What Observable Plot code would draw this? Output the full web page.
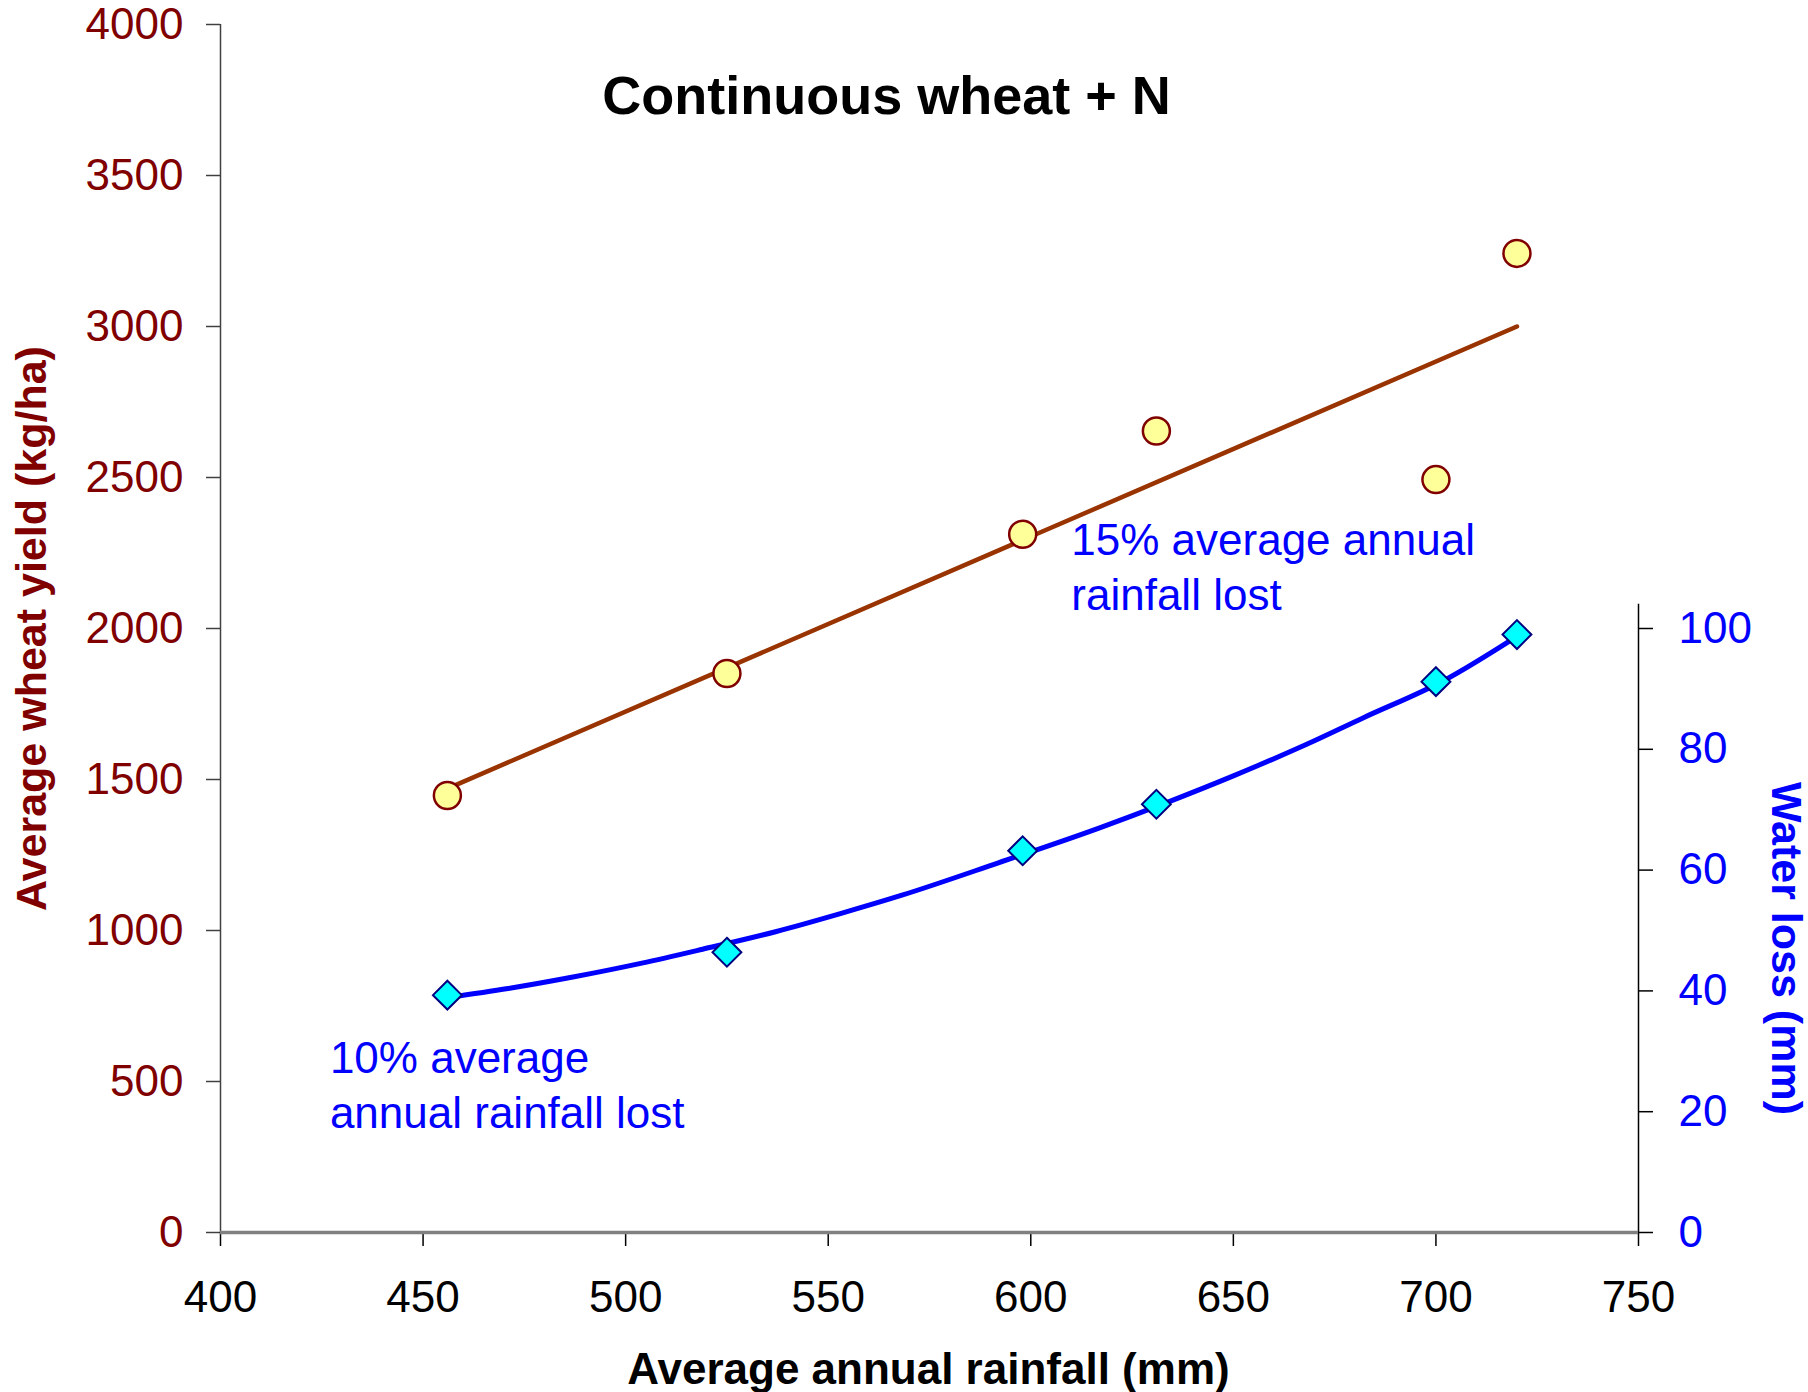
<!DOCTYPE html>
<html><head><meta charset="utf-8">
<script src="https://cdn.jsdelivr.net/npm/d3@7"></script>
<script src="https://cdn.jsdelivr.net/npm/@observablehq/plot@0.6"></script>
<style>html,body{margin:0;padding:0;background:#fff;} #chart svg{display:block;}</style>
</head><body><div id="chart"></div>
<script>
// ---- data ----
const rainfall   = [456, 525, 598, 631, 700, 720];
const wheatYield = [1447, 1851, 2312, 2654, 2493, 3242];
const waterLoss  = [39.3, 46.4, 63.2, 70.9, 91.2, 99.0];
const trendRain  = [456, 720];
const trendYield = [1470, 3000];
const curveRain  = [456, 471, 487, 504, 519, 537, 553, 568, 592, 617, 634, 650, 667, 682, 702, 720];
const curveLoss  = [38.9, 40.4, 42.3, 44.6, 46.9, 49.8, 52.8, 55.8, 61.2, 67.0, 71.3, 75.6, 80.5, 85.2, 91.4, 98.7];
const xTicks     = [400, 450, 500, 550, 600, 650, 700, 750];
const yTicks     = [0, 500, 1000, 1500, 2000, 2500, 3000, 3500, 4000];
const lossTicks  = [0, 20, 40, 60, 80, 100];
const lossAxisMax = 104;
const lossToYield = 20;   // right axis: 100 mm sits at 2000 kg/ha
const title  = "Continuous wheat + N";
const xLabel = "Average annual rainfall (mm)";
const yLabel = "Average wheat yield (kg/ha)";
const y2Label = "Water loss (mm)";
const noteText = ["15% average annual\nrainfall lost", "10% average\nannual rainfall lost"];
const noteRain = [610, 427];
const noteLoss = [103.1, 17.3];   // last-line baseline, in mm of water loss

// ---- tables ----
const yieldPts = rainfall.map((x, i) => ({x, y: wheatYield[i]}));
const lossPts  = rainfall.map((x, i) => ({x, y: waterLoss[i] * lossToYield}));
const trend    = trendRain.map((x, i) => ({x, y: trendYield[i]}));
const curve    = curveRain.map((x, i) => ({x, y: curveLoss[i] * lossToYield}));
const notes    = noteText.map((t, i) => ({t, x: noteRain[i], y: noteLoss[i] * lossToYield}));

const FONT = "'Liberation Sans', Arial, Helvetica, sans-serif";
const DARKRED = "#800000", BLUE = "#0000FF";
const plain = d => String(d);

const chart = Plot.plot({
  width: 1808, height: 1392,
  marginLeft: 220, marginRight: 170, marginTop: 24, marginBottom: 160,
  style: {fontFamily: FONT, background: "white", overflow: "visible"},
  x: {domain: [400, 750]},
  y: {domain: [0, 4000]},
  marks: [
    Plot.ruleX([400], {stroke: "#404040", strokeWidth: 1.5}),
    Plot.ruleX([750], {y1: 0, y2: lossAxisMax * lossToYield, stroke: "black", strokeWidth: 1.5}),
    Plot.axisY({anchor: "left", ticks: yTicks, tickFormat: plain, tickSize: 14, tickPadding: 23, stroke: "#404040", strokeWidth: 1.5, fill: DARKRED, fontSize: 44, label: null}),
    Plot.axisY({anchor: "right", ticks: lossTicks.map(d => d * lossToYield), tickFormat: d => String(d / lossToYield), tickSize: 14, tickPadding: 26, stroke: "black", strokeWidth: 1.5, fill: BLUE, fontSize: 44, label: null}),
    Plot.axisX({ticks: xTicks, tickFormat: plain, tickSize: 14, tickPadding: 34, stroke: "black", strokeWidth: 1.5, fill: "black", fontSize: 44, label: null}),
    Plot.ruleY([0], {stroke: "#808080", strokeWidth: 3.5}),
    Plot.line(trend, {x: "x", y: "y", stroke: "#993300", strokeWidth: 4.5}),
    Plot.line(curve, {x: "x", y: "y", stroke: BLUE, strokeWidth: 5, curve: "monotone-x"}),
    Plot.dot(yieldPts, {x: "x", y: "y", r: 13.5, fill: "#FFFF99", stroke: DARKRED, strokeWidth: 2.5}),
    Plot.dot(lossPts, {x: "x", y: "y", r: 13, symbol: "diamond2", fill: "#00FFFF", stroke: "#000080", strokeWidth: 2}),
    Plot.text(notes, {x: "x", y: "y", text: "t", textAnchor: "start", lineAnchor: "bottom", lineHeight: 1.24, fontSize: 44, fill: BLUE}),
    Plot.text([title], {frameAnchor: "top", textAnchor: "middle", dx: -43, dy: 89, lineAnchor: "bottom", fontSize: 54, fontWeight: "bold", fill: "black"}),
    Plot.text([xLabel], {frameAnchor: "bottom", textAnchor: "middle", dx: -1, dy: 151, lineAnchor: "bottom", fontSize: 44, fontWeight: "bold", fill: "black"}),
    Plot.text([yLabel], {frameAnchor: "left", textAnchor: "middle", rotate: -90, dx: -175, dy: 0, lineAnchor: "bottom", fontSize: 43, fontWeight: "bold", fill: DARKRED}),
    Plot.text([y2Label], {frameAnchor: "right", textAnchor: "middle", rotate: 90, dx: 133, dy: 320, lineAnchor: "bottom", fontSize: 43, fontWeight: "bold", fill: BLUE})
  ]
});
document.getElementById("chart").appendChild(chart);
</script>
</body></html>
